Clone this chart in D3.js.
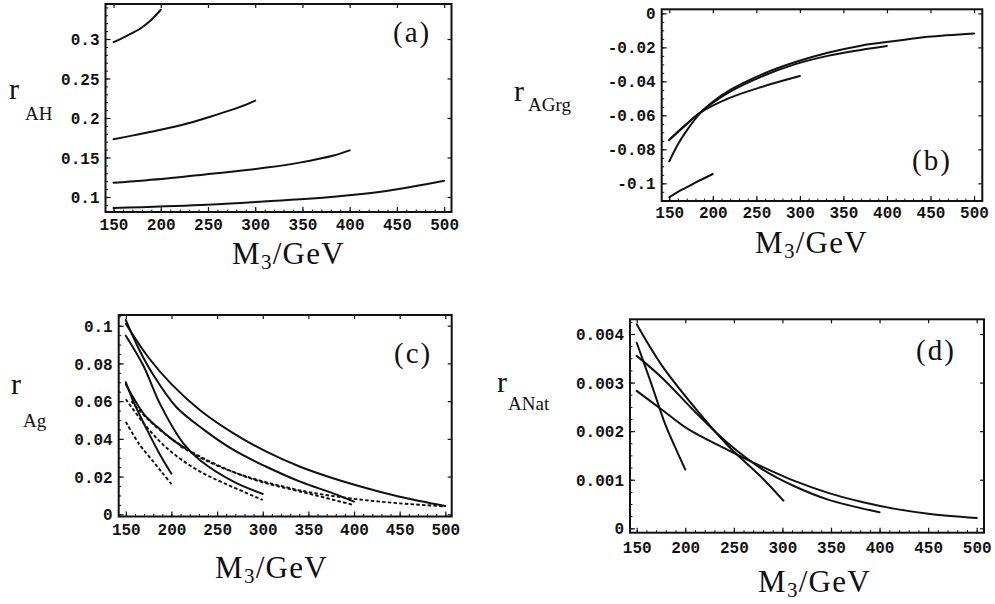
<!DOCTYPE html>
<html><head><meta charset="utf-8">
<script src="https://cdn.jsdelivr.net/npm/d3@7"></script>
<style>
html,body{margin:0;padding:0;background:#fff;}
svg{display:block;}
.tick{font-family:"Liberation Mono","DejaVu Sans Mono",monospace;font-weight:bold;font-size:16px;fill:#111;}
.ser{font-family:"Liberation Serif","DejaVu Serif",serif;fill:#111;}
</style></head><body>
<svg id="c" width="995" height="604"></svg>
<script>
// ---------- data ----------
const xTickValues = [150,200,250,300,350,400,450,500];
const xTickLabels = ["150","200","250","300","350","400","450","500"];

const yTicksA = [0.1,0.15,0.2,0.25,0.3];
const yLabelsA = ["0.1","0.15","0.2","0.25","0.3"];
const yTicksB = [0,-0.02,-0.04,-0.06,-0.08,-0.1];
const yLabelsB = ["0","-0.02","-0.04","-0.06","-0.08","-0.1"];
const yTicksC = [0,0.02,0.04,0.06,0.08,0.1];
const yLabelsC = ["0","0.02","0.04","0.06","0.08","0.1"];
const yTicksD = [0,0.001,0.002,0.003,0.004];
const yLabelsD = ["0","0.001","0.002","0.003","0.004"];

// panel (a) r_AH
const a200 = [[150,0.296],[164,0.304],[178,0.313],[189,0.323],[200,0.337]];
const a300 = [[150,0.173],[171,0.178],[200,0.185],[228,0.193],[256,0.203],[284,0.214],[300,0.222]];
const a400 = [[150,0.118],[206,0.1235],[259,0.1300],[312,0.1372],[347,0.1435],[383,0.1525],[400,0.1590]];
const a500 = [[150,0.0861],[242,0.0899],[312,0.0945],[383,0.1004],[435,0.1070],[500,0.1206]];

// panel (b) r_AGrg
const b200 = [[150,-0.1082],[164,-0.1039],[180,-0.0996],[200,-0.0945]];
const b300 = [[150,-0.0745],[170,-0.0650],[187,-0.0580],[218,-0.0500],[256,-0.0433],[300,-0.0369]];
const b400 = [[150,-0.0745],[165,-0.0675],[185,-0.0585],[200,-0.0525],[220,-0.0460],[256,-0.0372],[294,-0.0300],[332,-0.0250],[370,-0.0215],[400,-0.0192]];
const b500 = [[150,-0.0870],[160,-0.0770],[170,-0.0690],[185,-0.0590],[200,-0.0520],[220,-0.0450],[256,-0.0360],[294,-0.0288],[332,-0.0232],[370,-0.0190],[409,-0.0163],[447,-0.0138],[500,-0.0118]];

// panel (c) r_Ag  (solid and dashed)
const c200 = [[150,0.070],[160,0.058],[173,0.045],[187,0.032],[200,0.0215]];
const c215 = [[150,0.069],[158,0.062],[170,0.053],[184,0.0465],[200,0.040],[215,0.035]];
const c300 = [[150,0.0947],[169,0.079],[188,0.058],[213,0.0376],[231,0.0288],[268,0.0173],[300,0.0108]];
const c400 = [[150,0.103],[165,0.087],[180,0.074],[205,0.057],[235,0.045],[268,0.0341],[304,0.0252],[341,0.0173],[377,0.0111],[400,0.0067]];
const c500 = [[150,0.101],[175,0.083],[200,0.069],[231,0.0553],[268,0.0429],[304,0.0332],[341,0.0252],[377,0.0191],[414,0.0138],[450,0.0093],[500,0.0044]];
const c200d = [[150,0.049],[165,0.037],[180,0.028],[190,0.022],[200,0.016]];
const c300d = [[150,0.061],[175,0.045],[200,0.033],[230,0.023],[260,0.016],[300,0.0076]];
const c400d = [[156,0.060],[175,0.050],[200,0.040],[230,0.031],[270,0.022],[300,0.017],[350,0.011],[400,0.0049]];
const c500d = [[210,0.036],[240,0.028],[270,0.022],[300,0.0175],[350,0.0118],[400,0.0082],[450,0.0058],[500,0.0042]];

// panel (d) r_ANat
const d200 = [[150,0.00382],[165,0.00298],[179,0.00216],[190,0.00165],[200,0.00121]];
const d300 = [[150,0.00420],[176,0.00335],[210,0.00248],[244,0.00170],[279,0.00104],[301,0.00057]];
const d400 = [[150,0.00355],[176,0.00310],[210,0.00240],[244,0.00175],[279,0.00122],[313,0.00086],[347,0.00059],[400,0.00033]];
const d500 = [[150,0.00283],[176,0.00244],[203,0.00204],[244,0.00161],[279,0.00127],[313,0.00097],[347,0.00073],[382,0.00054],[416,0.00040],[450,0.00030],[500,0.00021]];

// ---------- drawing ----------
const svg = d3.select("#c");

const panels = [
 {key:"a", L:105.5,R:451.5,T:4,B:212, xd:[141.5,507.8], yd:[0.081,0.3443],
  yt:yTicksA, yl:yLabelsA, yminor:0.01,
  solid:[a200,a300,a400,a500], dashed:[],
  tag:"(a)", tagX:393, tagY:42,
  xlab:{x:232,y:264}, xtY:230,
  ylab:{rx:9,ry:99,sx:25,sy:120,sub:"AH"}},
 {key:"b", L:661.7,R:982.3,T:9.3,B:201, xd:[141.3,509.5], yd:[-0.1104,0.0024],
  yt:yTicksB, yl:yLabelsB, yminor:0.005,
  solid:[b200,b300,b400,b500], dashed:[],
  tag:"(b)", tagX:912, tagY:170,
  xlab:{x:755,y:253}, xtY:218,
  ylab:{rx:514,ry:101,sx:528,sy:111,sub:"AGrg"}},
 {key:"c", L:118.7,R:451.7,T:315,B:516.5, xd:[142.2,507], yd:[-0.00117,0.10567],
  yt:yTicksC, yl:yLabelsC, yminor:0.005,
  solid:[c200,c215,c300,c400,c500], dashed:[c200d,c300d,c400d,c500d],
  tag:"(c)", tagX:394, tagY:363,
  xlab:{x:215,y:578}, xtY:535,
  ylab:{rx:11,ry:394,sx:23,sy:427,sub:"Ag"}},
 {key:"d", L:630,R:984,T:319.3,B:532.7, xd:[143.1,507.5], yd:[-0.0000906,0.0043026],
  yt:yTicksD, yl:yLabelsD, yminor:0.00025,
  solid:[d200,d300,d400,d500], dashed:[],
  tag:"(d)", tagX:916, tagY:360,
  xlab:{x:758,y:592}, xtY:553,
  ylab:{rx:497,ry:392,sx:508,sy:410,sub:"ANat"}}
];

panels.forEach(p => {
  const x = d3.scaleLinear().domain(p.xd).range([p.L,p.R]);
  const y = d3.scaleLinear().domain(p.yd).range([p.B,p.T]);
  const g = svg.append("g");

  // frame
  g.append("rect").attr("x",p.L).attr("y",p.T).attr("width",p.R-p.L).attr("height",p.B-p.T)
    .attr("fill","none").attr("stroke","#111").attr("stroke-width",2);

  // ticks using d3 axes (inside ticks)
  const xMinor = d3.range(150,501,10);
  const bottomAxis = d3.axisBottom(x).tickValues(xTickValues).tickFormat((d,i)=>xTickLabels[i]).tickSizeInner(-5).tickSizeOuter(0).tickPadding(10);
  const gx = g.append("g").attr("transform",`translate(0,${p.B})`).call(bottomAxis);
  gx.select(".domain").remove();
  gx.selectAll("line").attr("stroke","#111").attr("stroke-width",1.2);
  gx.selectAll("text").attr("class","tick").attr("y",p.xtY-p.B).attr("dy",0);

  const gxm = g.append("g").attr("transform",`translate(0,${p.B})`).call(d3.axisBottom(x).tickValues(xMinor).tickSize(-2.5).tickFormat(""));
  gxm.select(".domain").remove(); gxm.selectAll("line").attr("stroke","#111").attr("stroke-width",1);
  const gxt = g.append("g").attr("transform",`translate(0,${p.T})`).call(d3.axisTop(x).tickValues(xTickValues).tickSize(-4).tickFormat(""));
  gxt.select(".domain").remove(); gxt.selectAll("line").attr("stroke","#111").attr("stroke-width",1.2);

  const leftAxis = d3.axisLeft(y).tickValues(p.yt).tickFormat((d,i)=>p.yl[i]).tickSizeInner(-5).tickSizeOuter(0).tickPadding(8);
  const gy = g.append("g").attr("transform",`translate(${p.L},0)`).call(leftAxis);
  gy.select(".domain").remove();
  gy.selectAll("line").attr("stroke","#111").attr("stroke-width",1.2);
  gy.selectAll("text").attr("class","tick").attr("dy","0.35em").attr("x",-6);
  const yMinor = d3.range(p.yd[0],p.yd[1],p.yminor).map(v=>Math.round(v/p.yminor)*p.yminor);
  const gym = g.append("g").attr("transform",`translate(${p.L},0)`).call(d3.axisLeft(y).tickValues(yMinor.filter(v=>v>=p.yd[0]&&v<=p.yd[1])).tickSize(-2.5).tickFormat(""));
  gym.select(".domain").remove(); gym.selectAll("line").attr("stroke","#111").attr("stroke-width",1);
  const gyr = g.append("g").attr("transform",`translate(${p.R},0)`).call(d3.axisRight(y).tickValues(p.yt).tickSize(-4).tickFormat(""));
  gyr.select(".domain").remove(); gyr.selectAll("line").attr("stroke","#111").attr("stroke-width",1.2);

  const line = d3.line().x(d=>x(d[0])).y(d=>y(d[1])).curve(d3.curveCatmullRom.alpha(0.5));
  p.solid.forEach(s => g.append("path").attr("d",line(s)).attr("fill","none")
     .attr("stroke","#111").attr("stroke-width",2).attr("stroke-linecap","round"));
  p.dashed.forEach(s => g.append("path").attr("d",line(s)).attr("fill","none")
     .attr("stroke","#111").attr("stroke-width",1.9).attr("stroke-dasharray","3.5,2.2"));

  // panel tag
  g.append("text").attr("class","ser").attr("x",p.tagX).attr("y",p.tagY)
    .attr("font-size",29).attr("letter-spacing",2).text(p.tag);

  // x label
  const xl = g.append("text").attr("class","ser").attr("x",p.xlab.x).attr("y",p.xlab.y)
    .attr("font-size",31).attr("letter-spacing",1.3);
  xl.append("tspan").text("M");
  xl.append("tspan").attr("font-size",21).attr("dy",5).text("3");
  xl.append("tspan").attr("dy",-5).text("/GeV");

  // y label
  g.append("text").attr("class","ser").attr("x",p.ylab.rx).attr("y",p.ylab.ry).attr("font-size",30).text("r");
  g.append("text").attr("class","ser").attr("x",p.ylab.sx).attr("y",p.ylab.sy).attr("font-size",19).text(p.ylab.sub);
});
</script>
</body></html>
